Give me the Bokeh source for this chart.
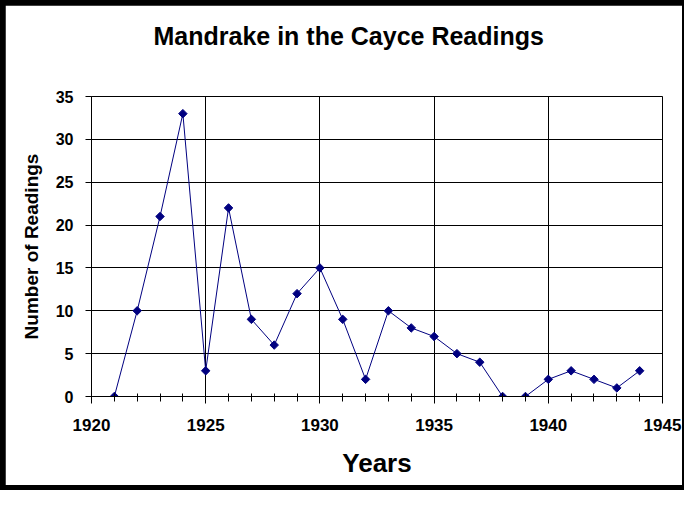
import math
from bokeh.plotting import figure
from bokeh.models import SingleIntervalTicker, Range1d, Title
from bokeh.layouts import column
from bokeh.embed import file_html
from bokeh.resources import INLINE

years = [1921, 1922, 1923, 1924, 1925, 1926, 1927, 1928, 1929, 1930, 1931, 1932,
         1933, 1934, 1935, 1936, 1937, 1938, 1939, 1940, 1941, 1942, 1943, 1944]
readings = [0, 10, 21, 33, 3, 22, 9, 6, 12, 15, 9, 2,
            10, 8, 7, 5, 4, 0, 0, 2, 3, 2, 1, 3]

title_text = "Mandrake in the Cayce Readings"
x_label = "Years"
y_label = "Number of Readings"
FONT = "Liberation Sans"

p = figure(width=677, height=480, output_backend="svg", toolbar_location=None,
           x_range=Range1d(1920, 1945), y_range=Range1d(0, 35),
           min_border_left=86, min_border_right=20, min_border_top=91, min_border_bottom=89)
p.title = None

# spacer between frame and title (closest to frame)
p.add_layout(Title(text=" ", text_font_size="10px", standoff=29, text_color="white"), "above")
# main title
p.add_layout(Title(text=title_text, align="left", offset=62, standoff=10,
                   text_font=FONT, text_font_size="25px", text_font_style="bold",
                   text_color="black"), "above")

p.background_fill_color = "white"
p.border_fill_color = "white"
p.outline_line_color = "black"
p.outline_line_width = 1

p.xaxis.ticker = SingleIntervalTicker(interval=5, num_minor_ticks=5)
p.yaxis.ticker = SingleIntervalTicker(interval=5, num_minor_ticks=0)

p.grid.grid_line_color = "black"
p.grid.grid_line_width = 1
p.grid.grid_line_alpha = 1

for ax in (p.xaxis[0], p.yaxis[0]):
    ax.axis_line_color = "black"
    ax.major_tick_line_color = "black"
    ax.minor_tick_line_color = "black"
    ax.major_label_text_font = FONT
    ax.major_label_text_font_style = "bold"
    ax.major_label_text_color = "black"
    ax.axis_label_text_font = FONT
    ax.axis_label_text_font_style = "bold"
    ax.axis_label_text_color = "black"

p.xaxis.major_tick_in = 0
p.xaxis.major_tick_out = 7
p.xaxis.minor_tick_in = 3
p.xaxis.minor_tick_out = 5
p.xaxis.major_label_standoff = 15
p.xaxis.major_label_text_font_size = "17px"
p.xaxis.axis_label = x_label
p.xaxis.axis_label_text_font_size = "26px"
p.xaxis.axis_label_standoff = 14

p.yaxis.major_tick_in = 0
p.yaxis.major_tick_out = 6
p.yaxis.minor_tick_line_color = None
p.yaxis.major_label_standoff = 12
p.yaxis.major_label_text_font_size = "16px"
p.yaxis.axis_label = y_label
p.yaxis.axis_label_text_font_size = "19px"
p.yaxis.axis_label_standoff = 11

p.line(years, readings, line_color="#000080", line_width=1)
p.scatter(years, readings, marker="square", angle=math.pi / 4, size=6,
          fill_color="#000080", line_color="#000080")

layout = column(p, styles={"background-color": "black", "padding": "5px 2px 5px 5px"})

open("out.html", "w").write(file_html(layout, INLINE))
